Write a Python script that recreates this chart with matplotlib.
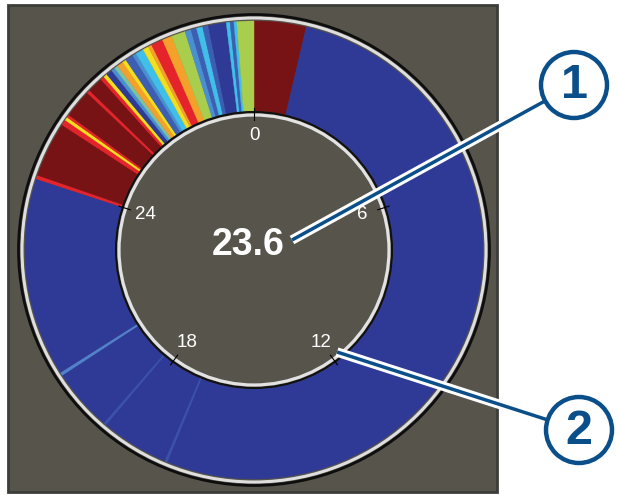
import matplotlib
matplotlib.use('Agg')
import matplotlib.pyplot as plt
import matplotlib.patheffects as pe
from matplotlib.patches import Circle, Rectangle
import numpy as np

plt.rcParams['font.family'] = ['Liberation Sans', 'DejaVu Sans']

# colour levels (jet-like) used by the ring
level_colors = ['#2e3a96', '#3d5fb3', '#4a8fd0', '#3fbfe9', '#7cc3a6', '#a9cd4c',
                '#f3df1e', '#f4a12b', '#e5232a', '#771314', '#5282cc', '#3b52ad']

# ring segments clockwise from 0 (scale is 0..30)
seg_levels = [9, 0, 11, 0, 11, 0, 10, 0,
              8, 9, 8, 6, 8, 9, 8, 9, 8, 6, 0, 2, 4, 7, 6, 1, 2, 3, 6, 7, 8, 7,
              5, 2, 1, 3, 1, 0, 3, 1, 3, 5]
seg_values = [1.10, 15.75, 0.06, 1.44, 0.06, 1.32, 0.07, 4.20,
              0.08, 1.17, 0.12, 0.07, 0.06, 0.60, 0.07, 0.33, 0.08, 0.08, 0.13,
              0.08, 0.08, 0.13, 0.08, 0.17, 0.08, 0.17, 0.12, 0.08, 0.25, 0.21,
              0.29, 0.13, 0.12, 0.13, 0.12, 0.38, 0.08, 0.08, 0.06, 0.36]
scale_max = 30
tick_values = [0, 6, 12, 18, 24]
center_value = 23.6

W, H = 617, 495
cx, cy = 254, H - 250
r_out, r_in = 229, 139

fig = plt.figure(figsize=(W / 100, H / 100), dpi=100)
ax = fig.add_axes([0, 0, 1, 1])

# dark panel
ax.add_patch(Rectangle((8, H - 492), 489, 487, facecolor='#57544c',
                       edgecolor='#3c3c3a', lw=2, zorder=0))

wedges, _ = ax.pie(seg_values, colors=[level_colors[i] for i in seg_levels],
                   startangle=90, counterclock=False, radius=r_out, center=(cx, cy),
                   wedgeprops=dict(width=r_out - r_in, linewidth=0.3))
for w in wedges:
    w.set_edgecolor(w.get_facecolor())

# bevel rings
ax.add_patch(Circle((cx, cy), 232, fill=False, ec='#dedede', lw=2.2, zorder=3))
ax.add_patch(Circle((cx, cy), 235.5, fill=False, ec='#0e0e0e', lw=2.0, zorder=3))
ax.add_patch(Circle((cx, cy), 138, fill=False, ec='#111111', lw=1.5, zorder=3))
ax.add_patch(Circle((cx, cy), 135, fill=False, ec='#e2e2e2', lw=2.3, zorder=3))

# ticks and labels on the inner edge
for v in tick_values:
    a = np.deg2rad(90 - 360.0 * v / scale_max)
    ax.plot([cx + 130 * np.cos(a), cx + 142 * np.cos(a)],
            [cy + 130 * np.sin(a), cy + 142 * np.sin(a)],
            color='black', lw=0.8, zorder=4)
    ax.text(cx + 114 * np.cos(a), cy + 114 * np.sin(a), str(v),
            color='white', fontsize=13.5, ha='center', va='center', zorder=5)

ax.text(cx - 6, cy + 5, f'{center_value:.1f}', color='white', fontsize=27,
        fontweight='bold', ha='center', va='center', zorder=5)

# callouts
callout_blue = '#0b4f8a'
callouts = [('1', (574, H - 85), (292, H - 240)),
            ('2', (579, H - 430), (337, H - 352))]
for label, (px, py), (ex, ey) in callouts:
    d = np.array([ex - px, ey - py], dtype=float)
    d /= np.hypot(*d)
    sx, sy = px + 34 * d[0], py + 34 * d[1]
    ax.plot([sx, ex], [sy, ey], color=callout_blue, lw=2.5, zorder=6,
            solid_capstyle='butt',
            path_effects=[pe.Stroke(linewidth=6.8, foreground='white'), pe.Normal()])
    ax.add_patch(Circle((px, py), 33, facecolor='white', ec=callout_blue, lw=3.2,
                        zorder=7))
    ax.text(px, py - 1, label, color=callout_blue, fontsize=35, fontweight='bold',
            ha='center', va='center', zorder=8)

ax.set_xlim(0, W)
ax.set_ylim(0, H)
ax.set_aspect('equal')
ax.axis('off')

fig.savefig('out.png', dpi=100, facecolor='white')
